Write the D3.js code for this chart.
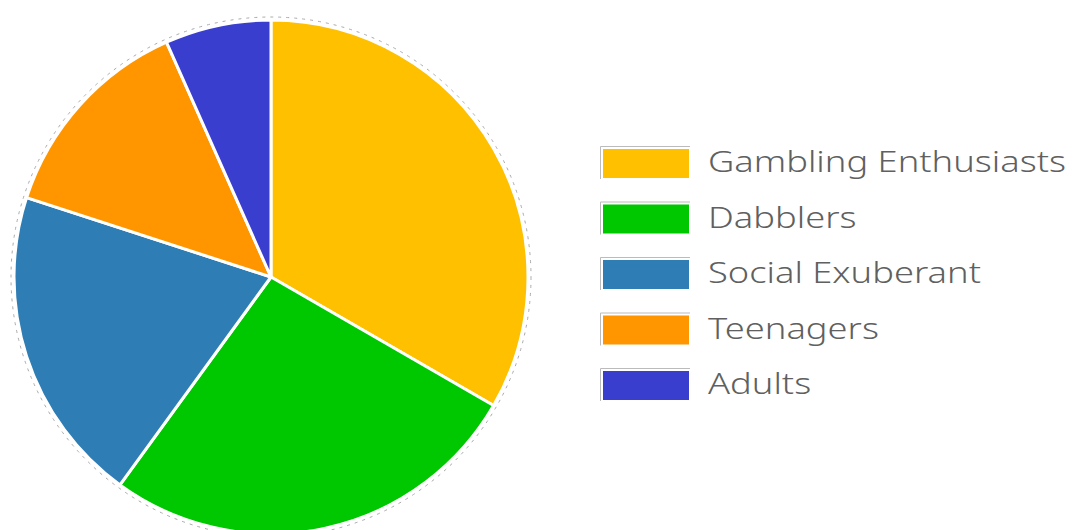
<!DOCTYPE html>
<html>
<head>
<meta charset="utf-8">
<script src="https://cdn.jsdelivr.net/npm/d3@7"></script>
<style>
  html, body { margin: 0; padding: 0; background: #fff; }
  svg { display: block; }
</style>
</head>
<body>
<svg id="chart" width="1074" height="530"></svg>
<script>
// Audience segments and their shares
const categories = ["Gambling Enthusiasts", "Dabblers", "Social Exuberant", "Teenagers", "Adults"];
const values = [5, 4, 3, 2, 1];
const colors = ["#FFC000", "#00C800", "#2E7DB4", "#FF9600", "#3A3ECF"];

const svg = d3.select("#chart");
const cx = 271, cy = 277, r = 257;

const pie = d3.pie().sort(null).value(d => d)(values);
const arc = d3.arc().innerRadius(0).outerRadius(r);

const g = svg.append("g").attr("transform", `translate(${cx},${cy})`);

// faint dashed ring around the pie
g.append("circle")
  .attr("r", r + 3)
  .attr("fill", "none")
  .attr("stroke", "#aaa")
  .attr("stroke-width", 1)
  .attr("stroke-dasharray", "3,5");

g.selectAll("path.slice")
  .data(pie)
  .join("path")
  .attr("class", "slice")
  .attr("d", arc)
  .attr("fill", (d, i) => colors[i])
  .attr("stroke", "#fff")
  .attr("stroke-width", 3)
  .attr("stroke-linejoin", "round");

// legend
const legend = svg.append("g").attr("transform", "translate(600,146)");
const rowH = 55.5;
const rows = legend.selectAll("g.row")
  .data(categories)
  .join("g")
  .attr("class", "row")
  .attr("transform", (d, i) => `translate(0,${i * rowH})`);

rows.append("path")
  .attr("d", "M0.5,33 V0.5 H90")
  .attr("fill", "none")
  .attr("stroke", "#bbb")
  .attr("stroke-width", 1);

rows.append("rect")
  .attr("x", 3).attr("y", 3)
  .attr("width", 86).attr("height", 29)
  .attr("fill", (d, i) => colors[i]);

// wide, light label lettering
rows.append("text")
  .attr("transform", "translate(108,26) scale(1.21,1)")
  .attr("font-family", "'Noto Sans', sans-serif")
  .attr("font-weight", 300)
  .attr("font-size", 30)
  .attr("fill", "#606060")
  .text(d => d);
</script>
</body>
</html>
